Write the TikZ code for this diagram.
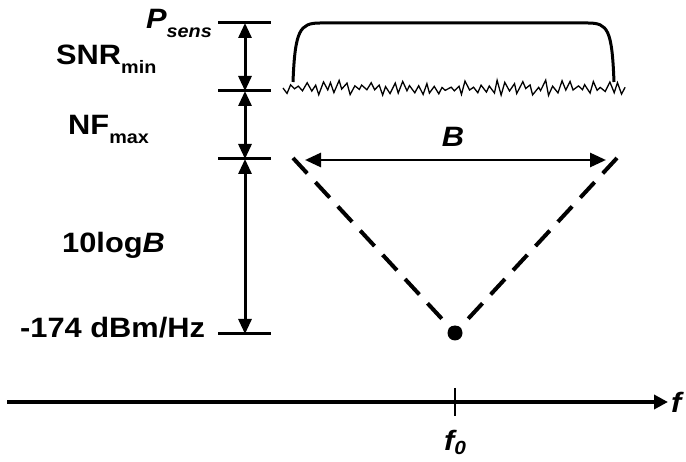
\documentclass[tikz,border=0pt]{standalone}
\usepackage{fontspec}
\setmainfont[FakeStretch=1.1]{Liberation Sans}
\usetikzlibrary{arrows.meta}
\begin{document}
\begin{tikzpicture}[x=1pt,y=-1pt,
  lbl/.style={font=\fontsize{28}{32}\selectfont\bfseries, inner sep=0pt},
  tickline/.style={line width=3pt},
  dimarrow/.style={line width=3pt, {Triangle[length=15pt,width=13pt]}-{Triangle[length=15pt,width=13pt]}},
  dashv/.style={line width=4pt, dash pattern=on 21pt off 12pt},
  sig/.style={line width=3pt},
  ]
\newcommand{\sub}[1]{\raisebox{-0.32em}{\fontsize{18}{20}\selectfont #1}}
\useasboundingbox (0,0) rectangle (686,462);
% level coordinates
\coordinate (l1) at (245,23);
\coordinate (l2) at (245,91);
\coordinate (l3) at (245,159);
\coordinate (l4) at (245,334);
\foreach \y/\n in {23/a,91/b,159/c,334/d}{
  \coordinate (t\n L) at (218,\y);
  \coordinate (t\n R) at (271,\y);
  \draw[tickline] (t\n L) -- (t\n R);
}
\draw[dimarrow] (l1) -- (l2);
\draw[dimarrow] (l2) -- (l3);
\draw[dimarrow] (l3) -- (l4);
% labels
\node[lbl, anchor=base east] (psens) at (212,29) {\textit{P\sub{sens}}};
\node[lbl, anchor=base west] (snr) at (56,65) {SNR\sub{min}};
\node[lbl, anchor=base west] (nf) at (68,135) {NF\sub{max}};
\node[lbl, anchor=base west] (logb) at (62,253) {10log\textit{B}};
\node[lbl, anchor=base west] (noise) at (20,338) {-174 dBm/Hz};
% signal
\coordinate (s1) at (293,82);
\coordinate (s2) at (614,82);
\draw[sig] (s1) .. controls (295,30) and (300,23) .. (320,23) -- (588,23) .. controls (608,23) and (612,30) .. (s2);
% noise floor
\pgfmathsetseed{11}
\coordinate (n0) at (283,88);
\draw[line width=1.3pt, line join=miter] (n0)
  \foreach \i [evaluate=\i as \a using {(2*mod(\i,2)-1)*(0.5+7.5*rnd)}, evaluate=\i as \xx using {283+\i*3.98+1.2*rand}] in {1,...,86} { -- (\xx, {88+\a}) };
% bandwidth arrow
\coordinate (bl) at (305,160);
\coordinate (br) at (606,160);
\draw[line width=2.8pt, {Triangle[length=16pt,width=14pt]}-{Triangle[length=16pt,width=14pt]}] (bl) -- (br);
\node[lbl, anchor=base] (blabel) at (453,147) {\textit{B}};
% dashed V
\coordinate (vl) at (293,158);
\coordinate (vr) at (617,158);
\coordinate (v0) at (455,333);
\draw[dashv] (vl) -- (v0);
\draw[dashv] (vr) -- (v0);
\fill (v0) circle (7.5);
% axis
\coordinate (ax0) at (7,402);
\coordinate (ax1) at (668,402);
\draw[line width=3.5pt, -{Triangle[length=14pt,width=14pt]}] (ax0) -- (ax1);
\node[lbl, anchor=base west] (flabel) at (671,413) {\textit{f}};
\coordinate (tk1) at (455,388);
\coordinate (tk2) at (455,416);
\draw[line width=2.5pt] (tk1) -- (tk2);
\node[lbl, anchor=base] (f0) at (455,450) {\textit{f\raisebox{-5pt}{\fontsize{19}{20}\selectfont 0}}};
\end{tikzpicture}
\end{document}
